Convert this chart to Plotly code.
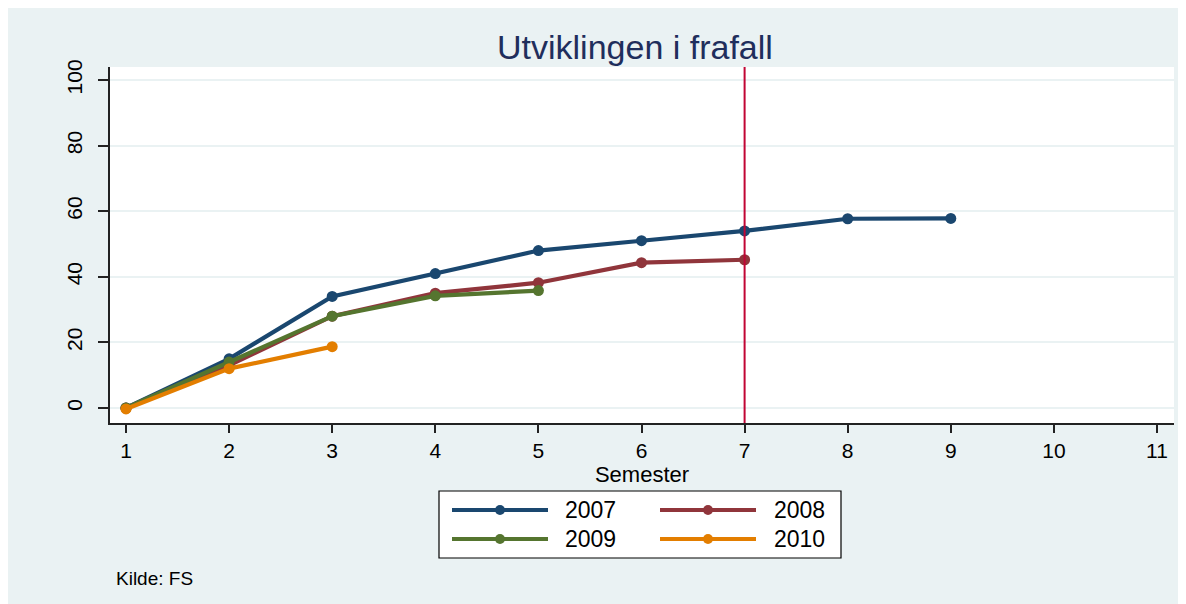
import plotly.graph_objects as go

# ---- data ----
semesters = [1, 2, 3, 4, 5, 6, 7, 8, 9]
series_names = ["2007", "2008", "2009", "2010"]
frafall_2007 = [0, 15, 34, 41, 48, 51, 54, 57.7, 57.8]
frafall_2008 = [0, 13, 28, 35, 38.2, 44.3, 45.2]
frafall_2009 = [0, 14, 28, 34.2, 35.8]
frafall_2010 = [-0.3, 12, 18.7]
x_ticks = [1, 2, 3, 4, 5, 6, 7, 8, 9, 10, 11]
y_ticks = [0, 20, 40, 60, 80, 100]
reference_semester = 7

title_text = "Utviklingen i frafall"
x_title = "Semester"
note_text = "Kilde: FS"

colors = ["#1a476f", "#90353b", "#55752f", "#e37e00"]
series_values = [frafall_2007, frafall_2008, frafall_2009, frafall_2010]

FONT = "Liberation Sans, Arial, sans-serif"
BG = "#eaf2f3"

# page offset (body margin) and plot area in page pixels
OFF = 8
W, H = 1178, 596
L, R, T, B = 110, 1174, 67, 423
PW, PH = R - L, B - T


def px(x):
    return (x - L) / PW


def py(y):
    return (B - y) / PH


fig = go.Figure()
for name, vals, col in zip(series_names, series_values, colors):
    fig.add_trace(go.Scatter(
        x=semesters[:len(vals)], y=vals, mode="lines+markers", name=name,
        line=dict(color=col, width=4.2), marker=dict(color=col, size=11),
        showlegend=False,
    ))

shapes = [
    # vertical reference line
    dict(type="line", xref="x", yref="paper", x0=reference_semester,
         x1=reference_semester, y0=0, y1=1, line=dict(color="#c10534", width=2)),
    # legend box
    dict(type="rect", xref="paper", yref="paper", x0=px(439), x1=px(841),
         y0=py(558), y1=py(491), fillcolor="white",
         line=dict(color="black", width=1.2)),
]

annotations = [
    dict(text=title_text, xref="paper", yref="paper", x=px(635), y=py(47),
         xanchor="center", yanchor="middle", showarrow=False,
         font=dict(family=FONT, size=34, color="#1f2e5c")),
    dict(text=note_text, xref="paper", yref="paper", x=px(114), y=py(578),
         xanchor="left", yanchor="middle", showarrow=False,
         font=dict(family=FONT, size=19, color="black")),
]

# legend entries (2 columns)
leg_rows = [510, 539]
leg_cols = [(452, 548, 563), (660, 756, 772)]
for i, (name, col) in enumerate(zip(series_names, colors)):
    r, c = divmod(i, 2)
    yy = py(leg_rows[r])
    x0, x1, xt = leg_cols[c]
    shapes.append(dict(type="line", xref="paper", yref="paper", x0=px(x0), x1=px(x1),
                       y0=yy, y1=yy, line=dict(color=col, width=4)))
    shapes.append(dict(type="circle", xref="paper", yref="paper",
                       xsizemode="pixel", ysizemode="pixel",
                       xanchor=px((x0 + x1) / 2), yanchor=yy,
                       x0=-5, x1=5, y0=-5, y1=5,
                       fillcolor=col, line=dict(color=col, width=0)))
    annotations.append(dict(text=name, xref="paper", yref="paper", x=px(xt), y=yy,
                            xanchor="left", yanchor="middle", showarrow=False,
                            font=dict(family=FONT, size=23, color="black")))

fig.update_layout(
    width=W, height=H,
    margin=dict(l=L - OFF, r=W - (R - OFF), t=T - OFF, b=H - (B - OFF), pad=0),
    paper_bgcolor=BG, plot_bgcolor="white",
    font=dict(family=FONT, color="black"),
    shapes=shapes, annotations=annotations,
    showlegend=False,
    xaxis=dict(
        range=[1 - 16 / 103.1, 11 + 17 / 103.1], tickvals=x_ticks,
        showgrid=False, zeroline=False,
        showline=True, linecolor="#222", linewidth=1.5,
        ticks="outside", ticklen=8, tickwidth=1.5, tickcolor="#222",
        tickfont=dict(size=21, family=FONT, color="black"),
        title=dict(text=x_title, standoff=0, font=dict(size=22, family=FONT, color="black")),
    ),
    yaxis=dict(
        range=[-15 / 3.28, 100 + 13 / 3.28], tickvals=y_ticks,
        showgrid=True, gridcolor=BG, gridwidth=1.5, zeroline=False,
        showline=True, linecolor="#222", linewidth=1.5,
        ticks="outside", ticklen=10, tickwidth=1.5, tickcolor="#222",
        tickangle=-90, ticklabelstandoff=8,
        tickfont=dict(size=21, family=FONT, color="black"),
    ),
)

fig.write_html("out.html")
